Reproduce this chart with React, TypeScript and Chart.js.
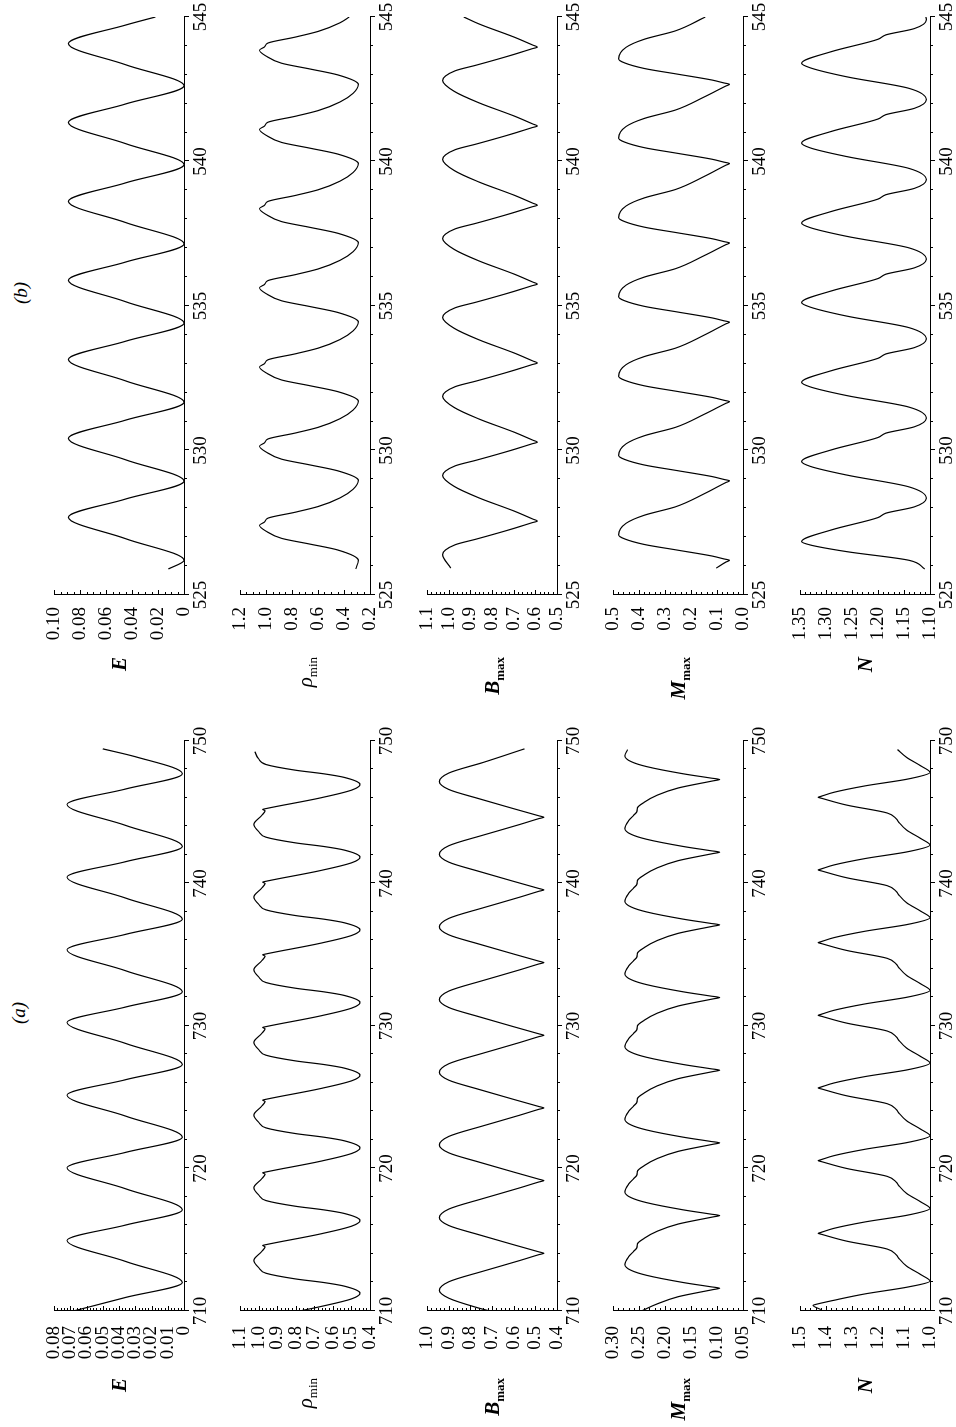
import React, { useEffect, useRef } from "react";
import { Chart, registerables } from "chart.js";

Chart.register(...registerables);

type Pt = [number, number];

// ---------- run (a): t = 710 … 750 ----------
const timeTicksA = [710, 720, 730, 740, 750];
const timeLabelsA = ["710", "720", "730", "740", "750"];

const energyA: Pt[] = [
  [710.0, 0.068], [710.95, 0.036], [712.0, 0.001], [713.48, 0.036], [714.95, 0.072], [716.03, 0.036],
  [717.1, 0.001], [718.58, 0.036], [720.05, 0.072], [721.13, 0.036], [722.2, 0.001], [723.68, 0.036],
  [725.15, 0.072], [726.23, 0.036], [727.3, 0.001], [728.78, 0.036], [730.25, 0.072], [731.33, 0.036],
  [732.4, 0.001], [733.88, 0.036], [735.35, 0.072], [736.43, 0.036], [737.5, 0.001], [738.98, 0.036],
  [740.45, 0.072], [741.53, 0.036], [742.6, 0.001], [744.08, 0.036], [745.55, 0.072], [746.63, 0.036],
  [747.7, 0.001], [748.9, 0.03], [749.45, 0.05],
];

const rhoMinA: Pt[] = [
  [710.0, 0.78], [710.3, 0.67], [710.85, 0.5], [711.25, 0.454],
  [711.75, 0.54], [712.0, 0.65], [712.25, 0.8], [712.65, 0.96], [713.05, 1.0], [713.55, 1.025], [714.15, 0.985], [714.5, 0.965], [714.6, 0.978], [714.67, 0.955], [715.4, 0.67], [715.95, 0.5], [716.35, 0.454],
  [716.85, 0.54], [717.1, 0.65], [717.35, 0.8], [717.75, 0.96], [718.15, 1.0], [718.65, 1.025], [719.25, 0.985], [719.6, 0.965], [719.7, 0.978], [719.77, 0.955], [720.5, 0.67], [721.05, 0.5], [721.45, 0.454],
  [721.95, 0.54], [722.2, 0.65], [722.45, 0.8], [722.85, 0.96], [723.25, 1.0], [723.75, 1.025], [724.35, 0.985], [724.7, 0.965], [724.8, 0.978], [724.87, 0.955], [725.6, 0.67], [726.15, 0.5], [726.55, 0.454],
  [727.05, 0.54], [727.3, 0.65], [727.55, 0.8], [727.95, 0.96], [728.35, 1.0], [728.85, 1.025], [729.45, 0.985], [729.8, 0.965], [729.9, 0.978], [729.97, 0.955], [730.7, 0.67], [731.25, 0.5], [731.65, 0.454],
  [732.15, 0.54], [732.4, 0.65], [732.65, 0.8], [733.05, 0.96], [733.45, 1.0], [733.95, 1.025], [734.55, 0.985], [734.9, 0.965], [735.0, 0.978], [735.07, 0.955], [735.8, 0.67], [736.35, 0.5], [736.75, 0.454],
  [737.25, 0.54], [737.5, 0.65], [737.75, 0.8], [738.15, 0.96], [738.55, 1.0], [739.05, 1.025], [739.65, 0.985], [740.0, 0.965], [740.1, 0.978], [740.17, 0.955], [740.9, 0.67], [741.45, 0.5], [741.85, 0.454],
  [742.35, 0.54], [742.6, 0.65], [742.85, 0.8], [743.25, 0.96], [743.65, 1.0], [744.15, 1.025], [744.75, 0.985], [745.1, 0.965], [745.2, 0.978], [745.27, 0.955], [746.0, 0.67], [746.55, 0.5], [746.95, 0.454],
  [747.45, 0.54], [747.7, 0.65], [747.95, 0.8], [748.35, 0.96], [748.75, 1.0], [749.25, 1.02],
];

const bMaxA: Pt[] = [
  [710.0, 0.71], [710.2, 0.76], [710.9, 0.9], [711.45, 0.943],
  [712.05, 0.9], [712.8, 0.74], [713.55, 0.57], [713.95, 0.485], [714.05, 0.461], [714.15, 0.484], [714.65, 0.6], [715.35, 0.76], [716.0, 0.9], [716.55, 0.943],
  [717.15, 0.9], [717.9, 0.74], [718.65, 0.57], [719.05, 0.485], [719.15, 0.461], [719.25, 0.484], [719.75, 0.6], [720.45, 0.76], [721.1, 0.9], [721.65, 0.943],
  [722.25, 0.9], [723.0, 0.74], [723.75, 0.57], [724.15, 0.485], [724.25, 0.461], [724.35, 0.484], [724.85, 0.6], [725.55, 0.76], [726.2, 0.9], [726.75, 0.943],
  [727.35, 0.9], [728.1, 0.74], [728.85, 0.57], [729.25, 0.485], [729.35, 0.461], [729.45, 0.484], [729.95, 0.6], [730.65, 0.76], [731.3, 0.9], [731.85, 0.943],
  [732.45, 0.9], [733.2, 0.74], [733.95, 0.57], [734.35, 0.485], [734.45, 0.461], [734.55, 0.484], [735.05, 0.6], [735.75, 0.76], [736.4, 0.9], [736.95, 0.943],
  [737.55, 0.9], [738.3, 0.74], [739.05, 0.57], [739.45, 0.485], [739.55, 0.461], [739.65, 0.484], [740.15, 0.6], [740.85, 0.76], [741.5, 0.9], [742.05, 0.943],
  [742.65, 0.9], [743.4, 0.74], [744.15, 0.57], [744.55, 0.485], [744.65, 0.461], [744.75, 0.484], [745.25, 0.6], [745.95, 0.76], [746.6, 0.9], [747.15, 0.943],
  [747.75, 0.9], [748.5, 0.74], [749.45, 0.55],
];

const mMaxA: Pt[] = [
  [710.0, 0.245], [710.5, 0.215], [711.0, 0.175], [711.5, 0.108], [711.6, 0.095],
  [711.7, 0.112], [712.0, 0.165], [712.5, 0.235], [712.85, 0.265], [713.25, 0.277], [713.8, 0.27], [714.2, 0.26], [714.45, 0.254], [714.7, 0.253], [715.1, 0.24], [715.6, 0.215], [716.1, 0.175], [716.6, 0.108], [716.7, 0.095],
  [716.8, 0.112], [717.1, 0.165], [717.6, 0.235], [717.95, 0.265], [718.35, 0.277], [718.9, 0.27], [719.3, 0.26], [719.55, 0.254], [719.8, 0.253], [720.2, 0.24], [720.7, 0.215], [721.2, 0.175], [721.7, 0.108], [721.8, 0.095],
  [721.9, 0.112], [722.2, 0.165], [722.7, 0.235], [723.05, 0.265], [723.45, 0.277], [724.0, 0.27], [724.4, 0.26], [724.65, 0.254], [724.9, 0.253], [725.3, 0.24], [725.8, 0.215], [726.3, 0.175], [726.8, 0.108], [726.9, 0.095],
  [727.0, 0.112], [727.3, 0.165], [727.8, 0.235], [728.15, 0.265], [728.55, 0.277], [729.1, 0.27], [729.5, 0.26], [729.75, 0.254], [730.0, 0.253], [730.4, 0.24], [730.9, 0.215], [731.4, 0.175], [731.9, 0.108], [732.0, 0.095],
  [732.1, 0.112], [732.4, 0.165], [732.9, 0.235], [733.25, 0.265], [733.65, 0.277], [734.2, 0.27], [734.6, 0.26], [734.85, 0.254], [735.1, 0.253], [735.5, 0.24], [736.0, 0.215], [736.5, 0.175], [737.0, 0.108], [737.1, 0.095],
  [737.2, 0.112], [737.5, 0.165], [738.0, 0.235], [738.35, 0.265], [738.75, 0.277], [739.3, 0.27], [739.7, 0.26], [739.95, 0.254], [740.2, 0.253], [740.6, 0.24], [741.1, 0.215], [741.6, 0.175], [742.1, 0.108], [742.2, 0.095],
  [742.3, 0.112], [742.6, 0.165], [743.1, 0.235], [743.45, 0.265], [743.85, 0.277], [744.4, 0.27], [744.8, 0.26], [745.05, 0.254], [745.3, 0.253], [745.7, 0.24], [746.2, 0.215], [746.7, 0.175], [747.2, 0.108], [747.3, 0.095],
  [747.4, 0.112], [747.7, 0.165], [748.2, 0.235], [748.55, 0.265], [748.95, 0.277], [749.4, 0.272],
];

const numberA: Pt[] = [
  [710.1, 1.42], [710.4, 1.45], [710.46, 1.44], [710.75, 1.37], [711.2, 1.25], [711.7, 1.08], [712.1, 1.0],
  [712.55, 1.035], [713.15, 1.09], [713.7, 1.12], [713.95, 1.13], [714.35, 1.165], [714.9, 1.32], [715.37, 1.415], [715.45, 1.43], [715.51, 1.42], [715.8, 1.37], [716.25, 1.25], [716.75, 1.08], [717.2, 1.0],
  [717.65, 1.035], [718.25, 1.09], [718.8, 1.12], [719.05, 1.13], [719.45, 1.165], [720.0, 1.32], [720.47, 1.415], [720.55, 1.43], [720.61, 1.42], [720.9, 1.37], [721.35, 1.25], [721.85, 1.08], [722.3, 1.0],
  [722.75, 1.035], [723.35, 1.09], [723.9, 1.12], [724.15, 1.13], [724.55, 1.165], [725.1, 1.32], [725.57, 1.415], [725.65, 1.43], [725.71, 1.42], [726.0, 1.37], [726.45, 1.25], [726.95, 1.08], [727.4, 1.0],
  [727.85, 1.035], [728.45, 1.09], [729.0, 1.12], [729.25, 1.13], [729.65, 1.165], [730.2, 1.32], [730.67, 1.415], [730.75, 1.43], [730.81, 1.42], [731.1, 1.37], [731.55, 1.25], [732.05, 1.08], [732.5, 1.0],
  [732.95, 1.035], [733.55, 1.09], [734.1, 1.12], [734.35, 1.13], [734.75, 1.165], [735.3, 1.32], [735.77, 1.415], [735.85, 1.43], [735.91, 1.42], [736.2, 1.37], [736.65, 1.25], [737.15, 1.08], [737.6, 1.0],
  [738.05, 1.035], [738.65, 1.09], [739.2, 1.12], [739.45, 1.13], [739.85, 1.165], [740.4, 1.32], [740.87, 1.415], [740.95, 1.43], [741.01, 1.42], [741.3, 1.37], [741.75, 1.25], [742.25, 1.08], [742.7, 1.0],
  [743.15, 1.035], [743.75, 1.09], [744.3, 1.12], [744.55, 1.13], [744.95, 1.165], [745.5, 1.32], [745.97, 1.415], [746.05, 1.43], [746.11, 1.42], [746.4, 1.37], [746.85, 1.25], [747.35, 1.08], [747.8, 1.0],
  [748.25, 1.035], [748.85, 1.09], [749.4, 1.125],
];

const eTicksA = [0, 0.01, 0.02, 0.03, 0.04, 0.05, 0.06, 0.07, 0.08];
const eLabelsA = ["0", "0.01", "0.02", "0.03", "0.04", "0.05", "0.06", "0.07", "0.08"];
const rhoTicksA = [0.4, 0.5, 0.6, 0.7, 0.8, 0.9, 1.0, 1.1];
const rhoLabelsA = ["0.4", "0.5", "0.6", "0.7", "0.8", "0.9", "1.0", "1.1"];
const bTicksA = [0.4, 0.5, 0.6, 0.7, 0.8, 0.9, 1.0];
const bLabelsA = ["0.4", "0.5", "0.6", "0.7", "0.8", "0.9", "1.0"];
const mTicksA = [0.05, 0.1, 0.15, 0.2, 0.25, 0.3];
const mLabelsA = ["0.05", "0.10", "0.15", "0.20", "0.25", "0.30"];
const nTicksA = [1.0, 1.1, 1.2, 1.3, 1.4, 1.5];
const nLabelsA = ["1.0", "1.1", "1.2", "1.3", "1.4", "1.5"];

// ---------- run (b): t = 525 … 545 ----------
const timeTicksB = [525, 530, 535, 540, 545];
const timeLabelsB = ["525", "530", "535", "540", "545"];

const energyB: Pt[] = [
  [525.9, 0.012], [526.2, 0], [526.95, 0.045], [527.69, 0.089], [528.32, 0.045], [528.94, 0],
  [529.68, 0.045], [530.42, 0.089], [531.05, 0.045], [531.67, 0], [532.41, 0.045], [533.15, 0.089],
  [533.78, 0.045], [534.41, 0], [535.15, 0.045], [535.89, 0.089], [536.52, 0.045], [537.15, 0],
  [537.89, 0.045], [538.62, 0.089], [539.26, 0.045], [539.89, 0], [540.62, 0.045], [541.35, 0.089],
  [541.99, 0.045], [542.62, 0], [543.35, 0.045], [544.08, 0.089], [544.72, 0.045], [545.0, 0.022],
];

const rhoMinB: Pt[] = [
  [525.9, 0.31], [526.2, 0.29],
  [526.56, 0.45], [526.76, 0.66], [526.96, 0.88], [527.21, 1.0], [527.41, 1.05], [527.53, 1.01], [527.66, 0.985], [527.86, 0.78], [528.06, 0.6], [528.36, 0.43], [528.66, 0.33], [528.97, 0.29],
  [529.3, 0.45], [529.5, 0.66], [529.7, 0.88], [529.95, 1.0], [530.15, 1.05], [530.27, 1.01], [530.4, 0.985], [530.6, 0.78], [530.8, 0.6], [531.1, 0.43], [531.4, 0.33], [531.71, 0.29],
  [532.04, 0.45], [532.24, 0.66], [532.44, 0.88], [532.69, 1.0], [532.89, 1.05], [533.01, 1.01], [533.14, 0.985], [533.34, 0.78], [533.54, 0.6], [533.84, 0.43], [534.14, 0.33], [534.45, 0.29],
  [534.78, 0.45], [534.98, 0.66], [535.18, 0.88], [535.43, 1.0], [535.63, 1.05], [535.75, 1.01], [535.88, 0.985], [536.08, 0.78], [536.28, 0.6], [536.58, 0.43], [536.88, 0.33], [537.19, 0.29],
  [537.52, 0.45], [537.72, 0.66], [537.92, 0.88], [538.17, 1.0], [538.37, 1.05], [538.49, 1.01], [538.62, 0.985], [538.82, 0.78], [539.02, 0.6], [539.32, 0.43], [539.62, 0.33], [539.93, 0.29],
  [540.26, 0.45], [540.46, 0.66], [540.66, 0.88], [540.91, 1.0], [541.11, 1.05], [541.23, 1.01], [541.36, 0.985], [541.56, 0.78], [541.76, 0.6], [542.06, 0.43], [542.36, 0.33], [542.67, 0.29],
  [543.0, 0.45], [543.2, 0.66], [543.4, 0.88], [543.65, 1.0], [543.85, 1.05], [543.97, 1.01], [544.1, 0.985], [544.3, 0.78], [544.5, 0.6], [544.8, 0.43], [545.0, 0.36],
];

const bMaxB: Pt[] = [
  [525.93, 0.99], [526.4, 1.028], [526.74, 0.97], [526.94, 0.87], [527.28, 0.71], [527.5, 0.616], [527.56, 0.59], [527.62, 0.609], [527.91, 0.7], [528.36, 0.86], [528.76, 0.975], [529.13, 1.028],
  [529.47, 0.97], [529.67, 0.87], [530.01, 0.71], [530.23, 0.616], [530.29, 0.59], [530.35, 0.609], [530.64, 0.7], [531.09, 0.86], [531.49, 0.975], [531.87, 1.028],
  [532.21, 0.97], [532.41, 0.87], [532.75, 0.71], [532.97, 0.616], [533.03, 0.59], [533.09, 0.609], [533.38, 0.7], [533.83, 0.86], [534.23, 0.975], [534.6, 1.028],
  [534.94, 0.97], [535.14, 0.87], [535.48, 0.71], [535.7, 0.616], [535.76, 0.59], [535.82, 0.609], [536.11, 0.7], [536.56, 0.86], [536.96, 0.975], [537.33, 1.028],
  [537.67, 0.97], [537.87, 0.87], [538.21, 0.71], [538.43, 0.616], [538.49, 0.59], [538.55, 0.609], [538.84, 0.7], [539.29, 0.86], [539.69, 0.975], [540.07, 1.028],
  [540.41, 0.97], [540.61, 0.87], [540.95, 0.71], [541.17, 0.616], [541.23, 0.59], [541.29, 0.609], [541.58, 0.7], [542.03, 0.86], [542.43, 0.975], [542.8, 1.028],
  [543.14, 0.97], [543.34, 0.87], [543.68, 0.71], [543.9, 0.616], [543.96, 0.59], [544.02, 0.609], [544.31, 0.7], [544.76, 0.86], [545.0, 0.93],
];

const mMaxB: Pt[] = [
  [525.93, 0.103], [526.14, 0.066], [526.2, 0.052],
  [526.25, 0.074], [526.35, 0.12], [526.55, 0.25], [526.75, 0.38], [526.94, 0.455], [527.08, 0.478], [527.48, 0.45], [527.76, 0.38], [528.05, 0.26], [528.5, 0.15], [528.89, 0.066], [528.95, 0.052],
  [529.0, 0.074], [529.1, 0.12], [529.3, 0.25], [529.5, 0.38], [529.69, 0.455], [529.83, 0.478], [530.23, 0.45], [530.51, 0.38], [530.8, 0.26], [531.25, 0.15], [531.63, 0.066], [531.69, 0.052],
  [531.74, 0.074], [531.84, 0.12], [532.04, 0.25], [532.24, 0.38], [532.43, 0.455], [532.57, 0.478], [532.97, 0.45], [533.25, 0.38], [533.54, 0.26], [533.99, 0.15], [534.38, 0.066], [534.44, 0.052],
  [534.49, 0.074], [534.59, 0.12], [534.79, 0.25], [534.99, 0.38], [535.18, 0.455], [535.32, 0.478], [535.72, 0.45], [536.0, 0.38], [536.29, 0.26], [536.74, 0.15], [537.12, 0.066], [537.18, 0.052],
  [537.23, 0.074], [537.33, 0.12], [537.53, 0.25], [537.73, 0.38], [537.92, 0.455], [538.06, 0.478], [538.46, 0.45], [538.74, 0.38], [539.03, 0.26], [539.48, 0.15], [539.87, 0.066], [539.93, 0.052],
  [539.98, 0.074], [540.08, 0.12], [540.28, 0.25], [540.48, 0.38], [540.67, 0.455], [540.81, 0.478], [541.21, 0.45], [541.49, 0.38], [541.78, 0.26], [542.23, 0.15], [542.61, 0.066], [542.67, 0.052],
  [542.72, 0.074], [542.82, 0.12], [543.02, 0.25], [543.22, 0.38], [543.41, 0.455], [543.55, 0.478], [543.95, 0.45], [544.23, 0.38], [544.52, 0.26], [545.0, 0.145],
];

const numberB: Pt[] = [
  [525.9, 1.11], [526.2, 1.14], [526.5, 1.26], [526.73, 1.33], [526.85, 1.347],
  [527.25, 1.29], [527.68, 1.2], [527.83, 1.185], [528.05, 1.13], [528.35, 1.107],
  [528.74, 1.14], [529.15, 1.26], [529.45, 1.33], [529.62, 1.347],
  [530.02, 1.29], [530.45, 1.2], [530.6, 1.185], [530.82, 1.13], [531.12, 1.107],
  [531.5, 1.14], [531.9, 1.26], [532.2, 1.33], [532.36, 1.347],
  [532.76, 1.29], [533.19, 1.2], [533.34, 1.185], [533.56, 1.13], [533.86, 1.107],
  [534.25, 1.14], [534.65, 1.26], [534.96, 1.33], [535.12, 1.347],
  [535.52, 1.29], [535.95, 1.2], [536.1, 1.185], [536.32, 1.13], [536.62, 1.107],
  [537.01, 1.14], [537.41, 1.26], [537.71, 1.33], [537.87, 1.347],
  [538.27, 1.29], [538.7, 1.2], [538.85, 1.185], [539.07, 1.13], [539.37, 1.107],
  [539.76, 1.14], [540.17, 1.26], [540.47, 1.33], [540.64, 1.347],
  [541.04, 1.29], [541.47, 1.2], [541.62, 1.185], [541.84, 1.13], [542.14, 1.107],
  [542.53, 1.14], [542.93, 1.26], [543.24, 1.33], [543.4, 1.347],
  [543.8, 1.29], [544.23, 1.2], [544.38, 1.185], [544.6, 1.13], [544.9, 1.107], [545.0, 1.108],
];

const eTicksB = [0, 0.02, 0.04, 0.06, 0.08, 0.1];
const eLabelsB = ["0", "0.02", "0.04", "0.06", "0.08", "0.10"];
const rhoTicksB = [0.2, 0.4, 0.6, 0.8, 1.0, 1.2];
const rhoLabelsB = ["0.2", "0.4", "0.6", "0.8", "1.0", "1.2"];
const bTicksB = [0.5, 0.6, 0.7, 0.8, 0.9, 1.0, 1.1];
const bLabelsB = ["0.5", "0.6", "0.7", "0.8", "0.9", "1.0", "1.1"];
const mTicksB = [0, 0.1, 0.2, 0.3, 0.4, 0.5];
const mLabelsB = ["0.0", "0.1", "0.2", "0.3", "0.4", "0.5"];
const nTicksB = [1.1, 1.15, 1.2, 1.25, 1.3, 1.35];
const nLabelsB = ["1.10", "1.15", "1.20", "1.25", "1.30", "1.35"];

// ---------- layout (unrotated figure frame, 1427 x 956) ----------
const FRAME_W = 1427;
const FRAME_H = 956;
const ROW_TOPS = [54, 240, 427, 613, 800];
const PLOT_H = 130;
const COLS = {
  a: { left: 116, right: 686, labelRight: 49, tickPad: 15 },
  b: { left: 832, right: 1410, labelRight: 770, tickPad: 12 },
};
const PAD_L = 90;
const PAD_T = 14;
const PAD_R = 30;
const PAD_B = 40;
const FONT_FAMILY = "'Liberation Serif', 'Times New Roman', Times, serif";

type PanelSpec = {
  col: "a" | "b";
  row: number;
  points: Pt[];
  xTicks: number[];
  xLabels: string[];
  xMinor: number;
  yTicks: number[];
  yLabels: string[];
  yMinor: number;
};

const panels: PanelSpec[] = [
  { col: "a", row: 0, points: energyA, xTicks: timeTicksA, xLabels: timeLabelsA, xMinor: 2, yTicks: eTicksA, yLabels: eLabelsA, yMinor: 0.002 },
  { col: "a", row: 1, points: rhoMinA, xTicks: timeTicksA, xLabels: timeLabelsA, xMinor: 2, yTicks: rhoTicksA, yLabels: rhoLabelsA, yMinor: 0.02 },
  { col: "a", row: 2, points: bMaxA, xTicks: timeTicksA, xLabels: timeLabelsA, xMinor: 2, yTicks: bTicksA, yLabels: bLabelsA, yMinor: 0.02 },
  { col: "a", row: 3, points: mMaxA, xTicks: timeTicksA, xLabels: timeLabelsA, xMinor: 2, yTicks: mTicksA, yLabels: mLabelsA, yMinor: 0.01 },
  { col: "a", row: 4, points: numberA, xTicks: timeTicksA, xLabels: timeLabelsA, xMinor: 2, yTicks: nTicksA, yLabels: nLabelsA, yMinor: 0.02 },
  { col: "b", row: 0, points: energyB, xTicks: timeTicksB, xLabels: timeLabelsB, xMinor: 1, yTicks: eTicksB, yLabels: eLabelsB, yMinor: 0.005 },
  { col: "b", row: 1, points: rhoMinB, xTicks: timeTicksB, xLabels: timeLabelsB, xMinor: 1, yTicks: rhoTicksB, yLabels: rhoLabelsB, yMinor: 0.05 },
  { col: "b", row: 2, points: bMaxB, xTicks: timeTicksB, xLabels: timeLabelsB, xMinor: 1, yTicks: bTicksB, yLabels: bLabelsB, yMinor: 0.02 },
  { col: "b", row: 3, points: mMaxB, xTicks: timeTicksB, xLabels: timeLabelsB, xMinor: 1, yTicks: mTicksB, yLabels: mLabelsB, yMinor: 0.02 },
  { col: "b", row: 4, points: numberB, xTicks: timeTicksB, xLabels: timeLabelsB, xMinor: 1, yTicks: nTicksB, yLabels: nLabelsB, yMinor: 0.01 },
];

// Minor and major tick marks: time-axis marks hang below the axis,
// value-axis marks point into the plot.
const tickMarks = {
  id: "tickMarks",
  afterDraw(chart: any, _args: any, opts: any) {
    const { ctx, chartArea: a } = chart;
    const xs = chart.scales.x;
    const ys = chart.scales.y;
    ctx.save();
    ctx.strokeStyle = "#000";
    ctx.lineWidth = 1;
    ctx.beginPath();
    const nx = Math.round((xs.max - xs.min) / opts.xMinor);
    for (let i = 0; i <= nx; i++) {
      const v = xs.min + i * opts.xMinor;
      const major = opts.xTicks.some((t: number) => Math.abs(t - v) < opts.xMinor / 4);
      const px = Math.round(xs.getPixelForValue(v)) + 0.5;
      ctx.moveTo(px, a.bottom);
      ctx.lineTo(px, a.bottom + (major ? 5 : 3));
    }
    const ny = Math.round((ys.max - ys.min) / opts.yMinor);
    for (let j = 0; j <= ny; j++) {
      const v = ys.min + j * opts.yMinor;
      const major = opts.yTicks.some((t: number) => Math.abs(t - v) < opts.yMinor / 4);
      const py = Math.round(ys.getPixelForValue(v)) + 0.5;
      ctx.moveTo(a.left, py);
      ctx.lineTo(a.left + (major ? 5 : 3), py);
    }
    ctx.stroke();
    ctx.restore();
  },
};

function Panel({ spec }: { spec: PanelSpec }) {
  const ref = useRef<HTMLCanvasElement>(null);
  const col = COLS[spec.col];
  const plotW = col.right - col.left;
  const w = plotW + PAD_L + PAD_R;
  const h = PLOT_H + PAD_T + PAD_B;
  const left = col.left - PAD_L;
  const top = ROW_TOPS[spec.row] - PAD_T;

  useEffect(() => {
    const font = { family: FONT_FAMILY, size: 19 };
    const chart = new Chart(ref.current as HTMLCanvasElement, {
      type: "line",
      data: {
        datasets: [
          {
            data: spec.points.map(([x, y]) => ({ x, y })),
            borderColor: "#000",
            borderWidth: 1.2,
            pointRadius: 0,
            fill: false,
            cubicInterpolationMode: "monotone",
          },
        ],
      },
      options: {
        responsive: false,
        animation: false,
        events: [],
        layout: { padding: { top: PAD_T, right: PAD_R, left: 0, bottom: 0 } },
        plugins: {
          legend: { display: false },
          tooltip: { enabled: false },
          tickMarks: { xTicks: spec.xTicks, xMinor: spec.xMinor, yTicks: spec.yTicks, yMinor: spec.yMinor },
        } as any,
        scales: {
          x: {
            type: "linear",
            min: spec.xTicks[0],
            max: spec.xTicks[spec.xTicks.length - 1],
            grid: { display: false, drawTicks: false },
            border: { display: true, color: "#000", width: 1 },
            ticks: {
              font,
              color: "#000",
              padding: 6,
              autoSkip: false,
              maxRotation: 0,
              callback: (_v: any, i: number) => spec.xLabels[i],
            },
            afterBuildTicks: (s: any) => {
              s.ticks = spec.xTicks.map((v) => ({ value: v }));
            },
            afterFit: (s: any) => {
              s.height = PAD_B;
              s.paddingLeft = 0;
              s.paddingRight = 0;
            },
          },
          y: {
            type: "linear",
            min: spec.yTicks[0],
            max: spec.yTicks[spec.yTicks.length - 1],
            grid: { display: false, drawTicks: false },
            border: { display: true, color: "#000", width: 1 },
            ticks: {
              font,
              color: "#000",
              padding: col.tickPad,
              autoSkip: false,
              callback: (_v: any, i: number) => spec.yLabels[i],
            },
            afterBuildTicks: (s: any) => {
              s.ticks = spec.yTicks.map((v) => ({ value: v }));
            },
            afterFit: (s: any) => {
              s.width = PAD_L;
              s.paddingTop = 0;
              s.paddingBottom = 0;
            },
          },
        },
      } as any,
      plugins: [tickMarks],
    });
    return () => chart.destroy();
  }, []);

  return (
    <canvas
      ref={ref}
      width={w}
      height={h}
      style={{ position: "absolute", left, top, width: w, height: h }}
    />
  );
}

const subStyle: React.CSSProperties = { fontSize: 13, fontStyle: "normal", verticalAlign: -5, lineHeight: 0 };

const quantityNames: React.ReactNode[] = [
  <b><i>E</i></b>,
  <span><i>ρ</i><sub style={subStyle}>min</sub></span>,
  <span><b><i>B</i></b><sub style={{ ...subStyle, fontWeight: "bold" }}>max</sub></span>,
  <span><b><i>M</i></b><sub style={{ ...subStyle, fontWeight: "bold" }}>max</sub></span>,
  <b><i>N</i></b>,
];

const runTitles = [
  { text: "(a)", cx: 414, cy: 18 },
  { text: "(b)", cx: 1134, cy: 20 },
];

export default function App() {
  return (
    <div
      style={{
        position: "fixed",
        left: 0,
        top: 0,
        width: FRAME_H,
        height: FRAME_W,
        overflow: "hidden",
        background: "#fff",
      }}
    >
      <div
        style={{
          position: "absolute",
          left: 0,
          top: 0,
          width: FRAME_W,
          height: FRAME_H,
          transformOrigin: "0 0",
          transform: `translateY(${FRAME_W}px) rotate(-90deg)`,
          fontFamily: FONT_FAMILY,
          color: "#000",
        }}
      >
        {panels.map((p, i) => (
          <Panel key={i} spec={p} />
        ))}
        {(["a", "b"] as const).map((c) =>
          quantityNames.map((node, r) => (
            <div
              key={c + r}
              style={{
                position: "absolute",
                right: FRAME_W - COLS[c].labelRight,
                top: ROW_TOPS[r] + PLOT_H / 2,
                transform: "translateY(-50%)",
                fontSize: 21,
                lineHeight: 1,
                whiteSpace: "nowrap",
              }}
            >
              {node}
            </div>
          ))
        )}
        {runTitles.map((t) => (
          <div
            key={t.text}
            style={{
              position: "absolute",
              left: t.cx,
              top: t.cy,
              transform: "translate(-50%, -50%)",
              fontSize: 19,
              fontStyle: "italic",
              lineHeight: 1,
            }}
          >
            {t.text}
          </div>
        ))}
      </div>
    </div>
  );
}
